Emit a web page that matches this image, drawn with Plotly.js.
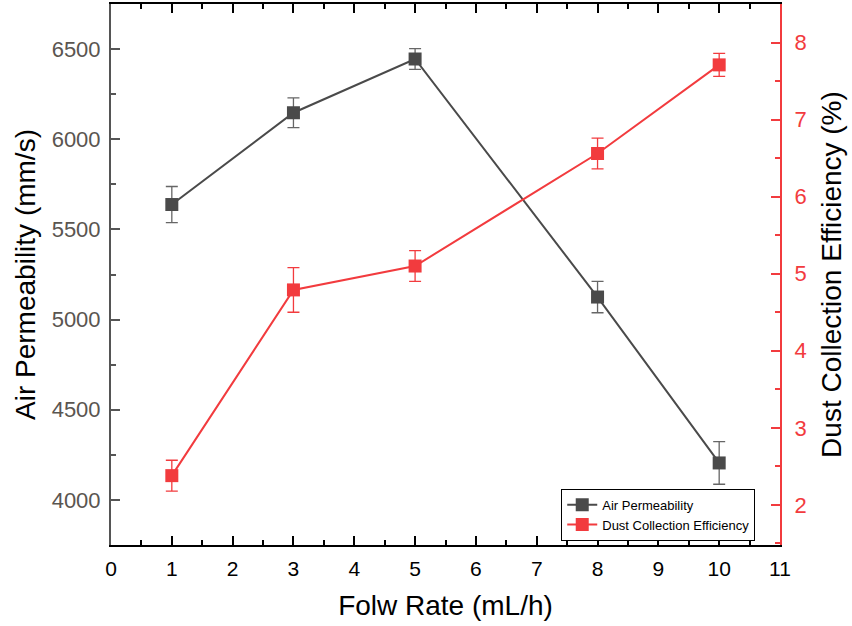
<!DOCTYPE html>
<html>
<head>
<meta charset="utf-8">
<script src="https://cdn.plot.ly/plotly-3.0.1.min.js"></script>
<style>html,body{margin:0;padding:0;background:#fff;}#chart{width:852px;height:626px;}</style>
</head>
<body>
<div id="chart"></div>
<script>
const flowRate = [1, 3, 5, 8, 10];
const airPerm = [5638, 6147, 6445, 5125, 4205];
const airPermErr = [100, 82, 58, 87, 118];
const dustEff = [2.38, 4.79, 5.10, 6.56, 7.71];
const dustEffErr = [0.20, 0.29, 0.20, 0.20, 0.15];
const xTicks = [0,1,2,3,4,5,6,7,8,9,10,11];

const grey = '#4a4a4a';
const red = '#f23b3e';

const traces = [
  {
    x: flowRate, y: airPerm, name: 'Air Permeability', type: 'scatter', mode: 'lines+markers',
    line: {color: grey, width: 2},
    marker: {symbol: 'square', size: 13, color: grey},
    error_y: {type: 'data', array: airPermErr, visible: true, color: '#666', thickness: 1.3, width: 6},
    yaxis: 'y'
  },
  {
    x: flowRate, y: dustEff, name: 'Dust Collection Efficiency', type: 'scatter', mode: 'lines+markers',
    line: {color: red, width: 2},
    marker: {symbol: 'square', size: 13, color: red},
    error_y: {type: 'data', array: dustEffErr, visible: true, color: red, thickness: 1.3, width: 6},
    yaxis: 'y2'
  }
];

const layout = {
  width: 852, height: 626,
  margin: {l: 111, r: 72, t: 4, b: 81},
  paper_bgcolor: '#fff', plot_bgcolor: '#fff',
  font: {family: 'Liberation Sans, Arial, sans-serif', color: '#000'},
  showlegend: true,
  legend: {
    x: 0.673, y: 0.104, xanchor: 'left', yanchor: 'top',
    bordercolor: '#000', borderwidth: 1, bgcolor: '#fff',
    font: {size: 13, color: '#000'}, tracegroupgap: 0, itemwidth: 30
  },
  xaxis: {
    range: [0, 11], tickvals: xTicks, ticktext: xTicks.map(String),
    showgrid: false, zeroline: false,
    showline: true, linecolor: '#000', linewidth: 2, mirror: 'ticks',
    ticks: 'inside', ticklen: 9, tickwidth: 2, tickcolor: '#000',
    minor: {ticks: 'inside', dtick: 0.5, ticklen: 5, tickwidth: 2, tickcolor: '#000'},
    tickfont: {size: 21, color: '#000'}, ticklabelstandoff: 4,
    title: {text: 'Folw Rate (mL/h)', font: {size: 28, color: '#000'}, standoff: 16}
  },
  yaxis: {
    range: [3750, 6750], tickvals: [4000, 4500, 5000, 5500, 6000, 6500],
    showgrid: false, zeroline: false,
    showline: true, linecolor: '#555', linewidth: 2,
    ticks: 'inside', ticklen: 9, tickwidth: 2, tickcolor: '#555',
    minor: {ticks: 'inside', dtick: 250, ticklen: 5, tickwidth: 2, tickcolor: '#555'},
    tickfont: {size: 22, color: '#5a5550'}, ticklabelstandoff: 4,
    title: {text: 'Air Permeability (mm/s)', font: {size: 28, color: '#000'}, standoff: 8}
  },
  yaxis2: {
    range: [1.48, 8.5], tickvals: [2,3,4,5,6,7,8],
    overlaying: 'y', side: 'right',
    showgrid: false, zeroline: false,
    showline: true, linecolor: red, linewidth: 2,
    ticks: 'inside', ticklen: 9, tickwidth: 2, tickcolor: red,
    minor: {ticks: 'inside', dtick: 0.5, ticklen: 5, tickwidth: 2, tickcolor: red},
    tickfont: {size: 22, color: red}, ticklabelstandoff: 8,
    title: {text: 'Dust Collection Efficiency (%)', font: {size: 28, color: '#000'}, standoff: 16}
  }
};

Plotly.newPlot('chart', traces, layout, {displayModeBar: false, staticPlot: true});
</script>
</body>
</html>
